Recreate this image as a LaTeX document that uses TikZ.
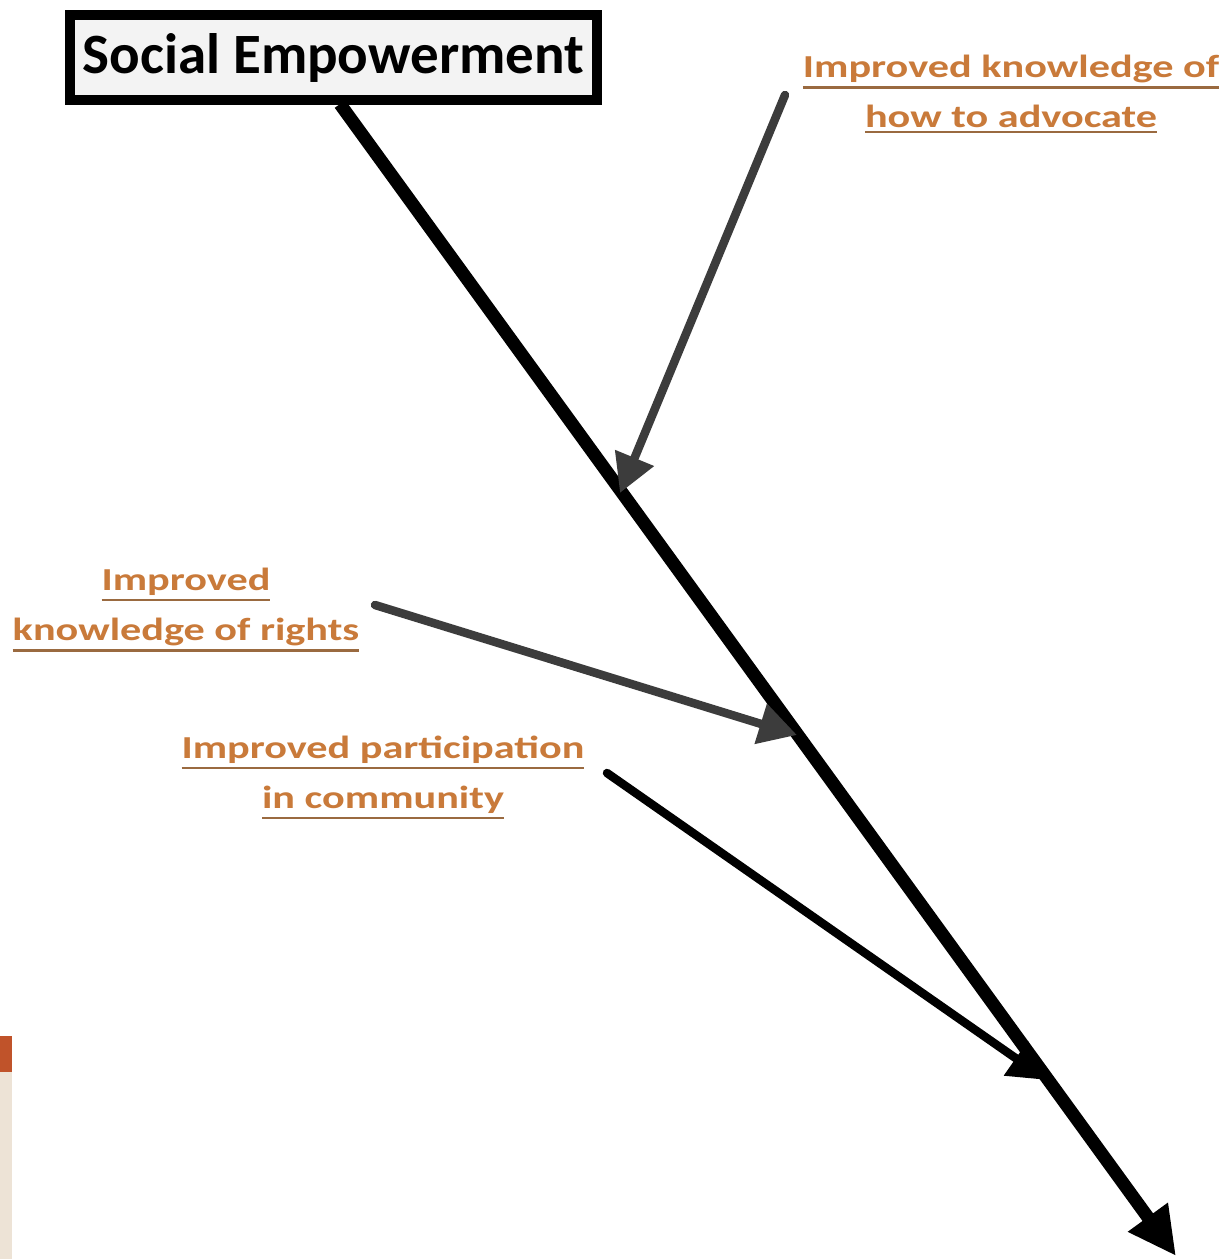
\documentclass[tikz,border=0pt]{standalone}
\usepackage{fontspec}
\setmainfont{Carlito}
\newfontfamily\lblfont{Carlito}[FakeStretch=1.32]
\usetikzlibrary{arrows.meta}
\definecolor{lbl}{HTML}{C97A3A}
\definecolor{lblline}{HTML}{9A6A40}
\definecolor{darkarr}{HTML}{3C3C3C}
\definecolor{boxfill}{HTML}{F3F3F3}
\definecolor{tabred}{HTML}{C0532A}
\definecolor{tabbeige}{HTML}{EDE3D6}
\newcommand\myul[1]{\leavevmode\vtop{\hbox{#1}\kern3.5pt{\color{lblline}\hrule height 2.6pt}}}
\tikzset{
  lbltext/.style={text=lbl, font=\lblfont\bfseries\fontsize{32}{50}\selectfont, align=center, inner sep=0pt},
  mainarrow/.style={line width=13pt, black, -{Triangle[length=48pt,width=46pt]}},
  subarrow/.style={line width=8.5pt, darkarr, -{Triangle[length=38pt,width=40pt]}},
  blkarrow/.style={line width=8.5pt, black, -{Triangle[length=38pt,width=40pt]}}
}
\begin{document}
\begin{tikzpicture}[x=1pt,y=-1pt]
\useasboundingbox (0,0) rectangle (1228,1259);
\fill[white] (0,0) rectangle (1228,1259);
% side tab
\fill[tabred] (0,1036) rectangle (12,1072);
\fill[tabbeige] (0,1072) rectangle (12,1259);
% title box
\node[draw=black, line width=10pt, fill=boxfill, minimum width=527pt, minimum height=85pt, inner sep=0pt,
      font=\bfseries\fontsize{57}{60}\selectfont] (se) at (333.5,57.5) {Social Empowerment};
% labels (base = baseline of the last line)
\node[lbltext, anchor=base] (adv) at (1011,127) {\myul{Improved knowledge of}\\\myul{how to advocate}};
\node[lbltext, anchor=base] (rights) at (186,640) {\myul{Improved}\\\myul{knowledge of rights}};
\node[lbltext, anchor=base] (part) at (383,808) {\myul{Improved participation}\\\myul{in community}};
% coordinates
\coordinate (mstart) at (340,104);
\coordinate (mend) at (1176,1256);
\coordinate (a1s) at (785,95);
\coordinate (a1e) at (620,493);
\coordinate (a2s) at (375,605);
\coordinate (a2e) at (797,735);
\coordinate (a3s) at (607,773);
\coordinate (a3e) at (1047,1080);
% connectors
\draw[mainarrow] (mstart) -- (mend);
\draw[subarrow, line cap=round] (a1s) -- (a1e);
\draw[subarrow, line cap=round] (a2s) -- (a2e);
\draw[blkarrow, line cap=round] (a3s) -- (a3e);
\end{tikzpicture}
\end{document}
